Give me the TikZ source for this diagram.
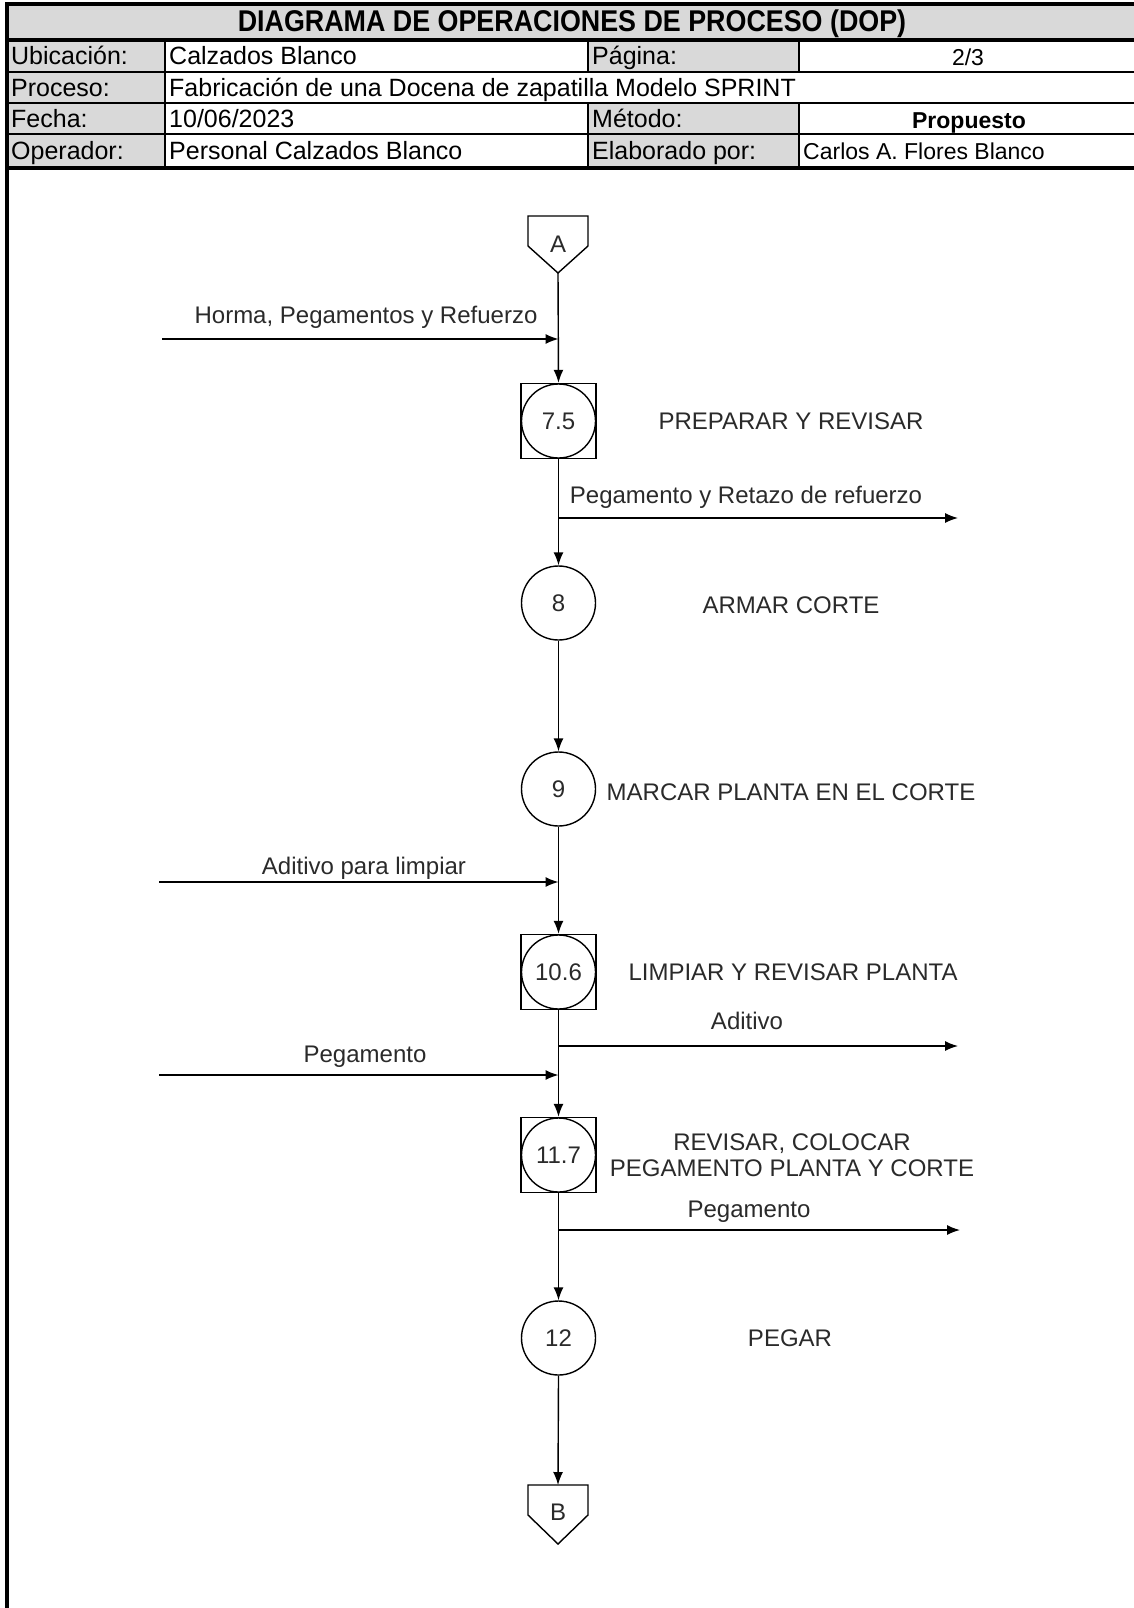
\documentclass[tikz,border=0pt]{standalone}
\usepackage{fontspec}
\setmainfont{Liberation Sans}
\usetikzlibrary{arrows.meta}
\definecolor{hdrgray}{HTML}{D9D9D9}
\definecolor{ink}{HTML}{2A2A2A}
\tikzset{
  hdr/.style={font=\fontsize{25}{28}\selectfont, inner sep=0pt, anchor=base west},
  hdrsm/.style={font=\fontsize{23}{26}\selectfont, inner sep=0pt, anchor=base},
  lbl/.style={font=\fontsize{24}{27}\selectfont, text=ink, inner sep=0pt, align=center},
  opinsp/.style={draw, line width=1.4pt, minimum size=75, inner sep=0pt, rectangle,
    font=\fontsize{24}{27}\selectfont, text=ink,
    path picture={\draw[line width=1.4pt] (path picture bounding box.center) circle (37pt);}},
  opcirc/.style={draw, line width=1.4pt, circle, minimum size=74, inner sep=0pt,
    font=\fontsize{24}{27}\selectfont, text=ink},
  flow/.style={line width=1.4pt, -{Latex[length=13pt,width=10pt]}},
  tline/.style={line width=2.2pt},
  tthick/.style={line width=3.2pt}
}
\begin{document}
\begin{tikzpicture}[x=1pt,y=-1pt]
\useasboundingbox (0,0) rectangle (1134,1608);
% ---------- header fills ----------
\fill[hdrgray] (7,4) rectangle (1134,40);
\fill[hdrgray] (7,40) rectangle (165,168);
\fill[hdrgray] (588,40) rectangle (799,72);
\fill[hdrgray] (588,103) rectangle (799,168);
% ---------- header lines ----------
\draw[tthick] (7,4) -- (1134,4);
\draw[tthick] (7,40) -- (1134,40);
\draw[tline] (7,72) -- (1134,72);
\draw[tline] (7,103) -- (1134,103);
\draw[tline] (7,134) -- (1134,134);
\draw[tthick] (7,168) -- (1134,168);
\draw[tthick] (7,2.4) -- (7,1608);
\draw[tline] (165,40) -- (165,168);
\draw[tline] (588,40) -- (588,72);
\draw[tline] (588,103) -- (588,168);
\draw[tline] (799,40) -- (799,72);
\draw[tline] (799,103) -- (799,168);
% ---------- header texts ----------
\node[font=\fontsize{30}{32}\selectfont\bfseries, inner sep=0pt, anchor=base] (title) at (572,32) {\scalebox{0.895}[1]{DIAGRAMA DE OPERACIONES DE PROCESO (DOP)}};
\node[hdr] (ubi) at (11,65) {Ubicación:};
\node[hdr] (ubiv) at (169,65) {Calzados Blanco};
\node[hdr] (pag) at (592,65) {Página:};
\node[hdrsm] (pagv) at (968,66) {2/3};
\node[hdr] (pro) at (11,97) {Proceso:};
\node[hdr] (prov) at (169,97) {Fabricación de una Docena de zapatilla Modelo SPRINT};
\node[hdr] (fec) at (11,128) {Fecha:};
\node[hdr] (fecv) at (169,128) {10/06/2023};
\node[hdr] (met) at (592,128) {Método:};
\node[hdrsm, font=\fontsize{23}{26}\selectfont\bfseries] (metv) at (969,129) {Propuesto};
\node[hdr] (ope) at (11,160) {Operador:};
\node[hdr] (opev) at (169,160) {Personal Calzados Blanco};
\node[hdr] (ela) at (592,160) {Elaborado por:};
\node[hdrsm, anchor=base west] (elav) at (803,160) {Carlos A. Flores Blanco};
% ---------- connectors A and B ----------
\draw[line width=1.4pt] (528,216) -- (588,216) -- (588,246) -- (558,273) -- (528,246) -- cycle;
\node[lbl] (A) at (558,244) {A};
\coordinate (Atip) at (558,273);
\draw[line width=1.4pt] (528,1485) -- (588,1485) -- (588,1515) -- (558,1544) -- (528,1515) -- cycle;
\node[lbl] (B) at (558,1512) {B};
\coordinate (Btop) at (558,1485);
% ---------- operations ----------
\node[opinsp] (o75) at (558.5,421) {7.5};
\node[opcirc] (o8) at (558.5,603) {8};
\node[opcirc] (o9) at (558.5,789) {9};
\node[opinsp] (o106) at (558.5,972) {10.6};
\node[opinsp] (o117) at (558.5,1155) {11.7};
\node[opcirc] (o12) at (558.5,1338) {12};
% ---------- operation labels ----------
\node[lbl] (t75) at (791,421) {PREPARAR Y REVISAR};
\node[lbl] (t8) at (791,605) {ARMAR CORTE};
\node[lbl] (t9) at (791,792) {MARCAR PLANTA EN EL CORTE};
\node[lbl] (t106) at (793,972) {LIMPIAR Y REVISAR PLANTA};
\node[lbl, font=\fontsize{24}{26}\selectfont] (t117) at (792,1155) {REVISAR, COLOCAR\\PEGAMENTO PLANTA Y CORTE};
\node[lbl] (t12) at (790,1338) {PEGAR};
% ---------- main flow ----------
\draw[flow] (Atip) -- (o75.north);
\draw[flow] (o75.south) -- (o8.north);
\draw[flow] (o8.south) -- (o9.north);
\draw[flow] (o9.south) -- (o106.north);
\draw[flow] (o106.south) -- (o117.north);
\draw[flow] (o117.south) -- (o12.north);
\draw[flow] (o12.south) -- (Btop);
% ---------- inputs ----------
\coordinate (in1s) at (162,339);  \coordinate (in1e) at (558.5,339);
\draw[flow] (in1s) -- (in1e);
\node[lbl] (in1) at (366,317) {Horma, Pegamentos y Refuerzo};
\coordinate (in2s) at (159,882);  \coordinate (in2e) at (558.5,882);
\draw[flow] (in2s) -- (in2e);
\node[lbl] (in2) at (364,868) {Aditivo para limpiar};
\coordinate (in3s) at (159,1075); \coordinate (in3e) at (558.5,1075);
\draw[flow] (in3s) -- (in3e);
\node[lbl] (in3) at (365,1057) {Pegamento};
% ---------- outputs ----------
\coordinate (out1s) at (558.5,518); \coordinate (out1e) at (958,518);
\draw[flow] (out1s) -- (out1e);
\node[lbl] (out1) at (746,497) {Pegamento y Retazo de refuerzo};
\coordinate (out2s) at (558.5,1046); \coordinate (out2e) at (958,1046);
\draw[flow] (out2s) -- (out2e);
\node[lbl] (out2) at (747,1021) {Aditivo};
\coordinate (out3s) at (558.5,1230); \coordinate (out3e) at (960,1230);
\draw[flow] (out3s) -- (out3e);
\node[lbl] (out3) at (749,1212) {Pegamento};
\end{tikzpicture}
\end{document}
